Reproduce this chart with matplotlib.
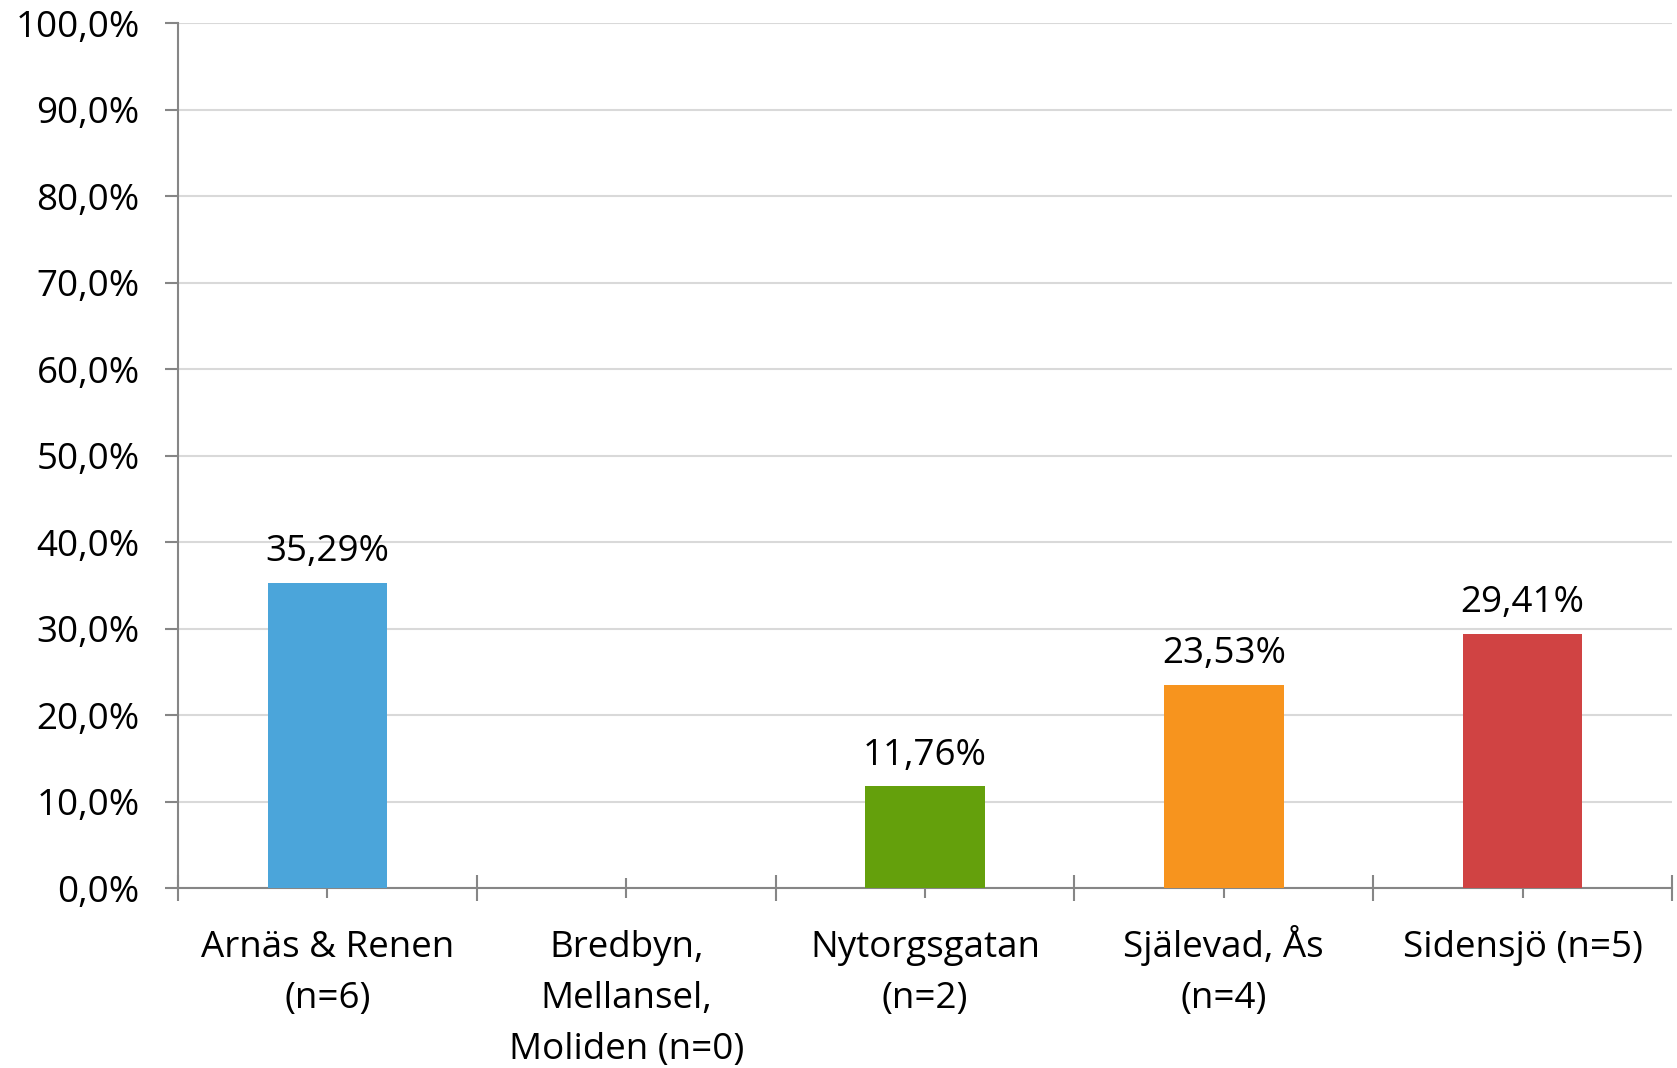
import matplotlib
matplotlib.use("Agg")
import matplotlib.pyplot as plt
import matplotlib.transforms as mtransforms
import numpy as np

categories = [
    "Arnäs & Renen\n(n=6)",
    "Bredbyn,\nMellansel,\nMoliden (n=0)",
    "Nytorgsgatan\n(n=2)",
    "Själevad, Ås\n(n=4)",
    "Sidensjö (n=5)",
]
values = [35.29, 0.0, 11.76, 23.53, 29.41]
bar_colors = ["#4BA5DA", "#64A00C", "#64A00C", "#F7941E", "#D04343"]
y_ticks = list(range(0, 101, 10))

plt.rcParams["font.family"] = ["Open Sans", "DejaVu Sans"]
FS = 26.5

fig = plt.figure(figsize=(16.77, 10.68), dpi=100)
ax = fig.add_axes([0.1061, 0.1685, 0.8909, 0.8095])

x = np.arange(len(categories))
ax.bar(x, values, width=0.4, color=bar_colors, zorder=3)

for xi, v in zip(x, values):
    if v > 0:
        ax.annotate(f"{v:.2f}%".replace(".", ","), (xi, v),
                    xytext=(0, 9), textcoords="offset points",
                    ha="center", va="bottom", fontsize=FS, color="black")

ax.set_xlim(-0.5, len(categories) - 0.5)
ax.set_ylim(0, 100)
ax.set_yticks(y_ticks)
ax.set_yticklabels([f"{t:.1f}%".replace(".", ",") for t in y_ticks], fontsize=FS)
ax.yaxis.grid(True, color="#D9D9D9", linewidth=1.5, zorder=0)

# category labels: one text per line so every first line shares a baseline
ax.set_xticks(x)
ax.set_xticklabels([])
ax.set_xticks(np.arange(-0.5, len(categories)), minor=True)
base = mtransforms.blended_transform_factory(ax.transData, ax.transAxes)
for xi, cat in zip(x, categories):
    for i, line in enumerate(cat.split("\n")):
        off = mtransforms.ScaledTranslation(0, -(49.5 + i * 36.7) / 72, fig.dpi_scale_trans)
        ax.text(xi, 0, line, transform=base + off, ha="center", va="baseline",
                fontsize=FS, clip_on=False)

for side in ("top", "right"):
    ax.spines[side].set_visible(False)
for side in ("left", "bottom"):
    ax.spines[side].set_color("#868686")
    ax.spines[side].set_linewidth(1.5)

ax.tick_params(axis="y", direction="out", length=9.5, width=1.5, color="#868686", pad=18)
ax.tick_params(axis="x", which="major", direction="inout", length=14.5, width=1.5,
               color="#868686")
ax.tick_params(axis="x", which="minor", direction="inout", length=19, width=1.5,
               color="#868686")

fig.savefig("out.png", dpi=100)
